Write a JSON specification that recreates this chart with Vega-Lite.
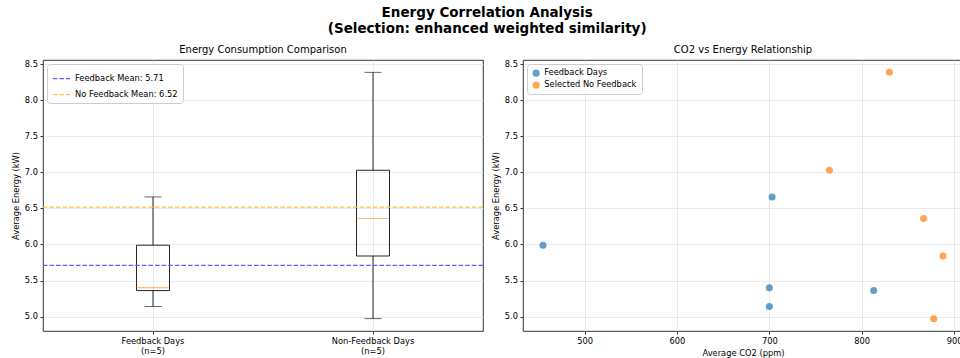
{
  "$schema": "https://vega.github.io/schema/vega-lite/v6.json",
  "background": "white",
  "padding": {"left": 10, "top": 6, "right": 0, "bottom": 0},
  "title": {
    "text": ["Energy Correlation Analysis", "(Selection: enhanced weighted similarity)"],
    "font": "DejaVu Sans",
    "fontSize": 13.5,
    "fontWeight": "bold",
    "color": "black",
    "anchor": "middle",
    "lineHeight": 16,
    "offset": 9
  },
  "config": {
    "font": "DejaVu Sans",
    "view": {"stroke": "black", "strokeWidth": 0.8},
    "axis": {
      "labelFont": "DejaVu Sans",
      "labelFontSize": 8.3,
      "labelColor": "black",
      "labelOverlap": false,
      "titleFont": "DejaVu Sans",
      "titleFontSize": 8.3,
      "titleFontWeight": "normal",
      "titleColor": "black",
      "tickColor": "black",
      "tickSize": 3,
      "tickWidth": 0.8,
      "domain": false,
      "gridColor": "#e6e6e6",
      "gridWidth": 0.8,
      "labelPadding": 2.5,
      "titlePadding": 4
    },
    "title": {"font": "DejaVu Sans", "fontSize": 10, "fontWeight": "normal", "color": "black", "offset": 4},
    "legend": {
      "labelFont": "DejaVu Sans",
      "labelFontSize": 8.3,
      "labelColor": "black",
      "fillColor": "rgba(255,255,255,0.8)",
      "strokeColor": "#cccccc",
      "cornerRadius": 3,
      "padding": 5,
      "rowPadding": 3,
      "offset": 4
    }
  },
  "datasets": {
    "energy": [
      {"group": "Feedback Days", "co2": 455, "energy": 5.99},
      {"group": "Feedback Days", "co2": 703, "energy": 6.66},
      {"group": "Feedback Days", "co2": 700, "energy": 5.40},
      {"group": "Feedback Days", "co2": 700, "energy": 5.14},
      {"group": "Feedback Days", "co2": 813, "energy": 5.36},
      {"group": "Selected No Feedback", "co2": 830, "energy": 8.39},
      {"group": "Selected No Feedback", "co2": 765, "energy": 7.03},
      {"group": "Selected No Feedback", "co2": 867, "energy": 6.36},
      {"group": "Selected No Feedback", "co2": 888, "energy": 5.84},
      {"group": "Selected No Feedback", "co2": 878, "energy": 4.97}
    ]
  },
  "bounds": "flush",
  "spacing": 40,
  "resolve": {"scale": {"color": "independent"}, "legend": {"color": "independent"}},
  "hconcat": [
    {
      "width": 440,
      "height": 271,
      "title": "Energy Consumption Comparison",
      "data": {"name": "energy"},
      "layer": [
        {
          "transform": [
            {
              "aggregate": [
                {"op": "min", "field": "energy", "as": "lo"},
                {"op": "q1", "field": "energy", "as": "q1"},
                {"op": "median", "field": "energy", "as": "med"},
                {"op": "q3", "field": "energy", "as": "q3"},
                {"op": "max", "field": "energy", "as": "hi"}
              ],
              "groupby": ["group"]
            }
          ],
          "encoding": {
            "x": {
              "field": "group",
              "type": "nominal",
              "sort": ["Feedback Days", "Selected No Feedback"],
              "scale": {"paddingInner": 0, "paddingOuter": 0},
              "axis": {
                "title": null,
                "labelAngle": 0,
                "bandPosition": 0.5,
                "grid": true,
                "labelLineHeight": 10,
                "labelExpr": "datum.value == 'Feedback Days' ? ['Feedback Days', '(n=5)'] : ['Non-Feedback Days', '(n=5)']"
              }
            }
          },
          "layer": [
            {
              "mark": {"type": "rule", "color": "black", "strokeWidth": 0.85},
              "encoding": {
                "y": {
                  "field": "lo",
                  "type": "quantitative",
                  "title": "Average Energy (kW)",
                  "scale": {"domain": [4.799, 8.561], "nice": false, "zero": false},
                  "axis": {"values": [5, 5.5, 6, 6.5, 7, 7.5, 8, 8.5], "format": ".1f", "grid": true, "labelOverlap": false}
                },
                "y2": {"field": "q1"}
              }
            },
            {
              "mark": {"type": "rule", "color": "black", "strokeWidth": 0.85},
              "encoding": {
                "y": {"field": "q3", "type": "quantitative", "title": "Average Energy (kW)", "axis": {"values": [5, 5.5, 6, 6.5, 7, 7.5, 8, 8.5], "format": ".1f", "grid": true, "labelOverlap": false}},
                "y2": {"field": "hi"}
              }
            },
            {
              "mark": {"type": "bar", "width": {"band": 0.15}, "fill": "transparent", "stroke": "black", "strokeWidth": 0.85},
              "encoding": {
                "y": {"field": "q1", "type": "quantitative", "title": "Average Energy (kW)", "axis": {"values": [5, 5.5, 6, 6.5, 7, 7.5, 8, 8.5], "format": ".1f", "grid": true, "labelOverlap": false}},
                "y2": {"field": "q3"}
              }
            },
            {
              "mark": {"type": "tick", "color": "black", "size": 17, "thickness": 0.85},
              "encoding": {"y": {"field": "lo", "type": "quantitative", "title": "Average Energy (kW)", "axis": {"values": [5, 5.5, 6, 6.5, 7, 7.5, 8, 8.5], "format": ".1f", "grid": true, "labelOverlap": false}}}
            },
            {
              "mark": {"type": "tick", "color": "black", "size": 17, "thickness": 0.85},
              "encoding": {"y": {"field": "hi", "type": "quantitative", "title": "Average Energy (kW)", "axis": {"values": [5, 5.5, 6, 6.5, 7, 7.5, 8, 8.5], "format": ".1f", "grid": true, "labelOverlap": false}}}
            },
            {
              "mark": {"type": "tick", "color": "#ff7f0e", "size": 33, "thickness": 0.85},
              "encoding": {"y": {"field": "med", "type": "quantitative", "title": "Average Energy (kW)", "axis": {"values": [5, 5.5, 6, 6.5, 7, 7.5, 8, 8.5], "format": ".1f", "grid": true, "labelOverlap": false}}}
            }
          ]
        },
        {
          "transform": [
            {"aggregate": [{"op": "mean", "field": "energy", "as": "mean"}], "groupby": ["group"]}
          ],
          "mark": {"type": "rule", "strokeDash": [4.6, 2], "strokeWidth": 1.25},
          "encoding": {
            "y": {"field": "mean", "type": "quantitative", "title": "Average Energy (kW)", "axis": {"values": [5, 5.5, 6, 6.5, 7, 7.5, 8, 8.5], "format": ".1f", "grid": true, "labelOverlap": false}},
            "color": {
              "field": "group",
              "type": "nominal",
              "scale": {"domain": ["Feedback Days", "Selected No Feedback"], "range": ["#5c5cff", "#ffc04d"]},
              "legend": {
                "title": null,
                "orient": "top-left",
                "symbolType": "stroke",
                "symbolStrokeWidth": 1.25,
                "symbolDash": [4.6, 2],
                "symbolSize": 300,
                "labelExpr": "datum.value == 'Feedback Days' ? 'Feedback Mean: 5.71' : 'No Feedback Mean: 6.52'"
              }
            }
          }
        }
      ]
    },
    {
      "width": 440,
      "height": 271,
      "title": "CO2 vs Energy Relationship",
      "data": {"name": "energy"},
      "mark": {"type": "circle", "size": 50, "opacity": 0.7},
      "encoding": {
        "x": {
          "field": "co2",
          "type": "quantitative",
          "title": "Average CO2 (ppm)",
          "scale": {"domain": [433.35, 909.65], "nice": false, "zero": false},
          "axis": {"values": [500, 600, 700, 800, 900], "grid": true}
        },
        "y": {
          "field": "energy",
          "type": "quantitative",
          "title": "Average Energy (kW)",
          "scale": {"domain": [4.799, 8.561], "nice": false, "zero": false},
          "axis": {"values": [5, 5.5, 6, 6.5, 7, 7.5, 8, 8.5], "format": ".1f", "grid": true}
        },
        "color": {
          "field": "group",
          "type": "nominal",
          "scale": {"domain": ["Feedback Days", "Selected No Feedback"], "range": ["#1f77b4", "#ff7f0e"]},
          "legend": {
            "title": null,
            "orient": "top-left",
            "symbolType": "circle",
            "symbolOpacity": 0.7,
            "symbolSize": 50,
            "symbolStrokeWidth": 0
          }
        }
      }
    }
  ]
}
